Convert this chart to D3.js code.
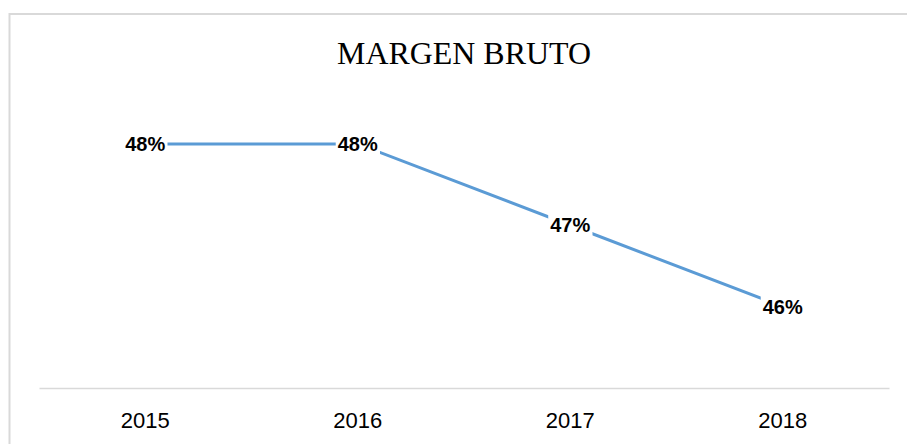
<!DOCTYPE html>
<html>
<head>
<meta charset="utf-8">
<script src="https://cdn.jsdelivr.net/npm/d3@7"></script>
<style>
  html, body { margin: 0; padding: 0; background: #fff; }
  svg { display: block; }
</style>
</head>
<body>
<svg id="chart" width="907" height="444"></svg>
<script>
const title = "MARGEN BRUTO";
const categories = ["2015", "2016", "2017", "2018"];
const values = [0.48, 0.48, 0.47, 0.46];
const yDomain = [0.45, 0.49];

const W = 907, H = 444;
const plot = { left: 39, right: 889, top: 62.5, bottom: 388 };

const svg = d3.select("#chart");

// chart area border (extends past the window on right/bottom)
svg.append("rect")
  .attr("x", 9.5).attr("y", 14)
  .attr("width", 1000).attr("height", 1000)
  .attr("fill", "#fff")
  .attr("stroke", "#d9d9d9")
  .attr("stroke-width", 2);

// title
svg.append("text")
  .attr("x", 464).attr("y", 64)
  .attr("text-anchor", "middle")
  .attr("font-family", "'Liberation Serif', 'Times New Roman', serif")
  .attr("font-size", 31)
  .attr("textLength", 254)
  .attr("lengthAdjust", "spacingAndGlyphs")
  .attr("fill", "#000")
  .text(title);

const x = d3.scaleBand().domain(categories).range([plot.left, plot.right]);
const y = d3.scaleLinear().domain(yDomain).range([plot.bottom, plot.top]);

// x axis
const xAxis = d3.axisBottom(x).tickSize(0).tickPadding(0);
const gx = svg.append("g")
  .attr("transform", `translate(0,${plot.bottom})`)
  .call(xAxis);
gx.select(".domain").attr("stroke", "#d9d9d9").attr("stroke-width", 1.5);
gx.selectAll(".tick text")
  .attr("y", 40)
  .attr("dy", 0)
  .attr("font-family", "'Liberation Sans', Arial, sans-serif")
  .attr("font-size", 22)
  .attr("fill", "#000");

// line
const data = categories.map((c, i) => ({ c, v: values[i] }));
const cx = d => x(d.c) + x.bandwidth() / 2;

svg.append("path")
  .datum(data)
  .attr("fill", "none")
  .attr("stroke", "#5b9bd5")
  .attr("stroke-width", 3)
  .attr("d", d3.line().x(cx).y(d => y(d.v)));

// data labels with white background
const fmt = d3.format(".0%");
const lbl = svg.append("g").selectAll("g").data(data).join("g")
  .attr("transform", d => `translate(${cx(d)},${y(d.v)})`);

const texts = lbl.append("text")
  .attr("text-anchor", "middle")
  .attr("dy", "0.35em")
  .attr("font-family", "'Liberation Sans', Arial, sans-serif")
  .attr("font-weight", "bold")
  .attr("font-size", 20)
  .attr("fill", "#000")
  .text(d => fmt(d.v));

texts.each(function() {
  const b = this.getBBox();
  d3.select(this.parentNode).insert("rect", "text")
    .attr("x", b.x - 2).attr("y", b.y)
    .attr("width", b.width + 4).attr("height", b.height)
    .attr("fill", "#fff");
});
</script>
</body>
</html>
